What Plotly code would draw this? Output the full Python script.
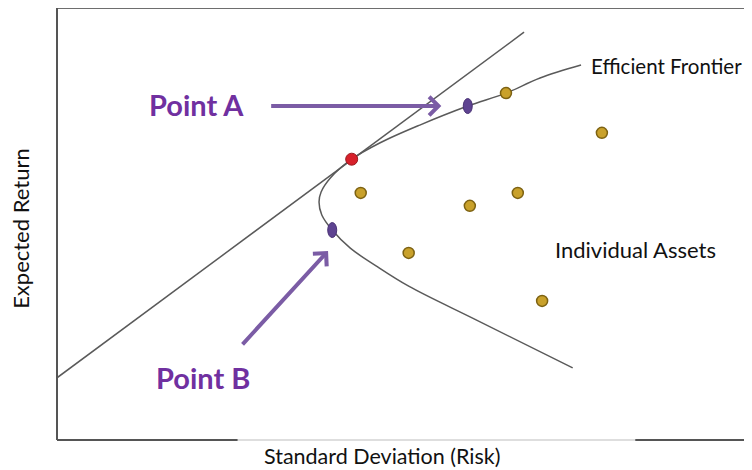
import plotly.graph_objects as go

# Efficient frontier (risk, return)
frontier_x = [7.54, 6.95, 6.46, 5.91, 5.22, 4.65, 4.24, 3.93, 3.80, 3.77, 3.81, 3.96, 4.22, 4.59, 5.06, 6.03, 7.42]
frontier_y = [8.68, 8.38, 8.03, 7.73, 7.29, 6.88, 6.50, 6.06, 5.74, 5.51, 5.21, 4.86, 4.44, 4.03, 3.56, 2.78, 1.67]

# Capital market line end points
cml_x = [0.0, 6.72]
cml_y = [1.44, 9.44]

# Individual assets
asset_x = [6.46, 7.84, 4.37, 5.94, 6.63, 5.06, 6.98]
asset_y = [8.03, 7.11, 5.72, 5.42, 5.72, 4.33, 3.22]

# Tangency portfolio
tangent_x = [4.24]
tangent_y = [6.50]

# Point A and Point B portfolios
pointA = (5.91, 7.73)
pointB = (3.96, 4.86)

# Arrows: (tip, tail)
arrowA_tip, arrowA_tail = (5.53, 7.73), (3.06, 7.73)
arrowB_tip, arrowB_tail = (3.90, 4.375), (2.65, 2.18)

label_font = "Lato"
purple_txt = "#7030A0"
purple_arrow = "#7B5CA5"
line_col = "#5a5a5a"

fig = go.Figure()

fig.add_trace(go.Scatter(x=cml_x, y=cml_y, mode="lines",
                         line=dict(color=line_col, width=1.5), hoverinfo="skip"))
fig.add_trace(go.Scatter(x=frontier_x, y=frontier_y, mode="lines",
                         line=dict(color=line_col, width=1.5, shape="spline", smoothing=1.0),
                         hoverinfo="skip"))
fig.add_trace(go.Scatter(x=asset_x, y=asset_y, mode="markers",
                         marker=dict(size=11, color="#C9A12B",
                                     line=dict(color="#7d6212", width=1.5))))
fig.add_trace(go.Scatter(x=tangent_x, y=tangent_y, mode="markers",
                         marker=dict(size=12, color="#D7202B",
                                     line=dict(color="#9a1a20", width=1))))

shapes = []
for (px, py) in (pointA, pointB):
    shapes.append(dict(type="circle", xref="x", yref="y",
                       xsizemode="pixel", ysizemode="pixel",
                       xanchor=px, yanchor=py,
                       x0=-4.5, x1=4.5, y0=-7.5, y1=7.5,
                       fillcolor="#5E4391", line=dict(color="#4a3275", width=1)))

# Frame
shapes += [
    dict(type="line", xref="paper", yref="paper", x0=0, x1=1, y0=1, y1=1,
         line=dict(color="#6e6e6e", width=2)),
    dict(type="line", xref="paper", yref="paper", x0=0, x1=0, y0=0, y1=1,
         line=dict(color="#555555", width=2)),
    dict(type="line", xref="paper", yref="paper", x0=0, x1=0.26, y0=0, y1=0,
         line=dict(color="#555555", width=2)),
    dict(type="line", xref="paper", yref="paper", x0=0.26, x1=0.832, y0=0, y1=0,
         line=dict(color="#bdbdbd", width=1)),
    dict(type="line", xref="paper", yref="paper", x0=0.832, x1=1, y0=0, y1=0,
         line=dict(color="#555555", width=2)),
]

annotations = [
    dict(x=arrowA_tip[0], y=arrowA_tip[1], ax=arrowA_tail[0], ay=arrowA_tail[1],
         xref="x", yref="y", axref="x", ayref="y", text="", showarrow=True,
         arrowhead=4, arrowsize=0.9, arrowwidth=4, arrowcolor=purple_arrow),
    dict(x=arrowB_tip[0], y=arrowB_tip[1], ax=arrowB_tail[0], ay=arrowB_tail[1],
         xref="x", yref="y", axref="x", ayref="y", text="", showarrow=True,
         arrowhead=4, arrowsize=0.9, arrowwidth=4, arrowcolor=purple_arrow),
    dict(x=1.30, y=7.77, xref="x", yref="y", text="<b>Point A</b>", showarrow=False,
         xanchor="left", font=dict(family=label_font, size=29, color=purple_txt)),
    dict(x=1.40, y=1.45, xref="x", yref="y", text="<b>Point B</b>", showarrow=False,
         xanchor="left", font=dict(family=label_font, size=29, color=purple_txt)),
    dict(x=7.66, y=8.65, xref="x", yref="y", text="Efficient Frontier", showarrow=False,
         xanchor="left", font=dict(family=label_font, size=20.5, color="#111111")),
    dict(x=7.14, y=4.40, xref="x", yref="y", text="Individual Assets", showarrow=False,
         xanchor="left", font=dict(family=label_font, size=22, color="#111111")),
    dict(x=-0.0525, y=0.49, xref="paper", yref="paper", text="Expected Return",
         showarrow=False, textangle=-90, xanchor="center", yanchor="middle",
         font=dict(family=label_font, size=22, color="#111111")),
    dict(x=0.469, y=-0.037, xref="paper", yref="paper", text="Standard Deviation (Risk)",
         showarrow=False, xanchor="center", yanchor="middle",
         font=dict(family=label_font, size=21.5, color="#111111")),
]

fig.update_layout(
    width=744, height=462,
    margin=dict(l=49, r=0, t=0, b=30),
    paper_bgcolor="white", plot_bgcolor="white",
    showlegend=False,
    shapes=shapes, annotations=annotations,
    xaxis=dict(range=[0, 10], showticklabels=False, showgrid=False, zeroline=False,
               showline=False, ticks=""),
    yaxis=dict(range=[0, 10], showticklabels=False, showgrid=False, zeroline=False,
               showline=False, ticks=""),
)

fig.write_html("out.html")
